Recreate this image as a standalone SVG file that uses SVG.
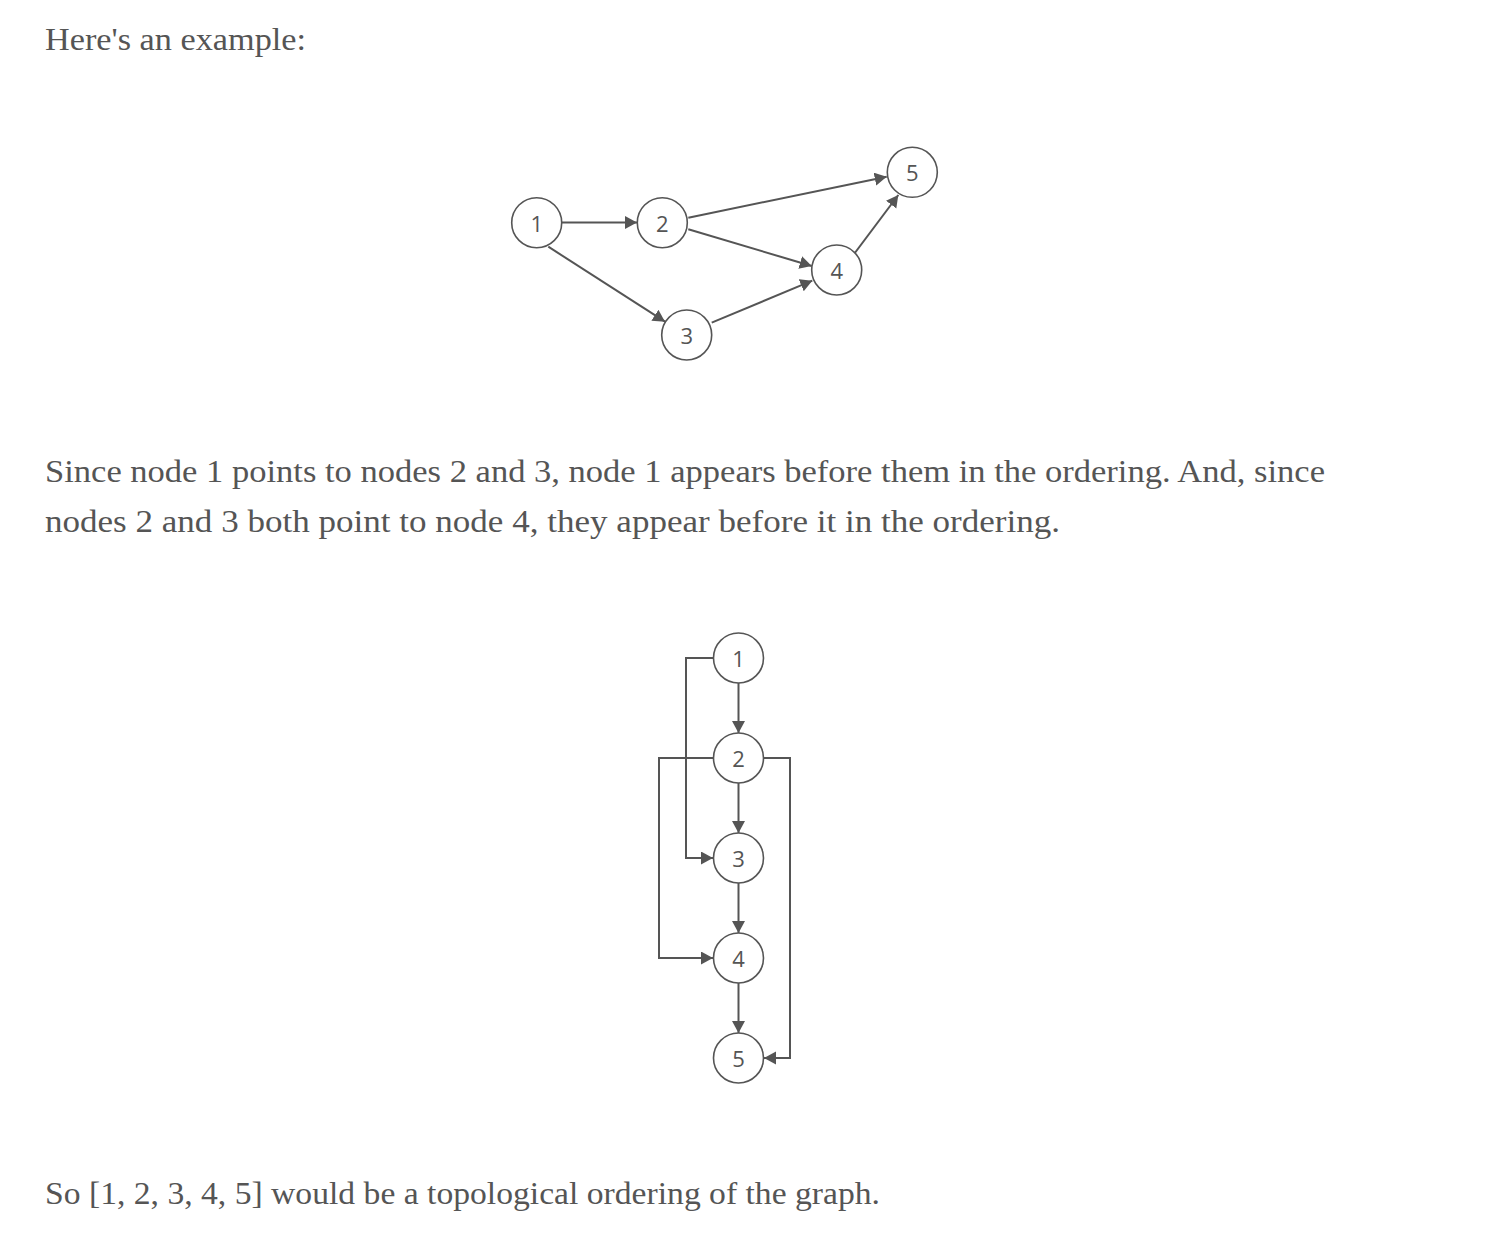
<svg xmlns="http://www.w3.org/2000/svg" width="1500" height="1244" viewBox="0 0 1500 1244">
<defs>
<style>
.para{font-family:"Liberation Serif","DejaVu Serif",serif;font-size:32px;fill:#555555;}
.node circle{fill:#ffffff;stroke:#555555;stroke-width:1.6;}
.node text{font-family:"Open Sans","Noto Sans",sans-serif;font-size:22px;fill:#555555;text-anchor:middle;dominant-baseline:central;}
.edge{fill:none;stroke:#555555;stroke-width:2;marker-end:url(#arr);}
</style>
<marker id="arr" markerUnits="userSpaceOnUse" markerWidth="13" markerHeight="14" refX="12" refY="6.5" orient="auto">
<path d="M0,0 L12,6.5 L0,13 Z" fill="#555555"/>
</marker>
</defs>
<rect width="1500" height="1244" fill="#ffffff"/>
<text class="para" x="45" y="50" textLength="261" lengthAdjust="spacingAndGlyphs">Here's an example:</text>
<text class="para" x="45" y="482" textLength="1280" lengthAdjust="spacingAndGlyphs">Since node 1 points to nodes 2 and 3, node 1 appears before them in the ordering. And, since</text>
<text class="para" x="45" y="532" textLength="1015" lengthAdjust="spacingAndGlyphs">nodes 2 and 3 both point to node 4, they appear before it in the ordering.</text>
<text class="para" x="45" y="1204" textLength="835" lengthAdjust="spacingAndGlyphs">So [1, 2, 3, 4, 5] would be a topological ordering of the graph.</text>

<g id="connectors">
<line class="edge" x1="562" y1="222.5" x2="637" y2="222.5"/>
<line class="edge" x1="548.3" y1="246.7" x2="665" y2="321.7"/>
<line class="edge" x1="688.3" y1="217.7" x2="886.7" y2="176.7"/>
<line class="edge" x1="688.3" y1="229.3" x2="811.7" y2="266"/>
<line class="edge" x1="711.7" y1="322.7" x2="812.3" y2="280.7"/>
<line class="edge" x1="853.3" y1="255" x2="898.3" y2="195"/>

<line class="edge" x1="738.5" y1="683" x2="738.5" y2="733"/>
<path class="edge" d="M713,658 H686 V858 H713"/>
<line class="edge" x1="738.5" y1="783" x2="738.5" y2="833"/>
<path class="edge" d="M713,758 H659 V958 H713"/>
<line class="edge" x1="738.5" y1="883" x2="738.5" y2="933"/>
<path class="edge" d="M764,758 H790 V1058 H764"/>
<line class="edge" x1="738.5" y1="983" x2="738.5" y2="1033"/>
</g>

<g id="top-n1" class="node"><circle cx="536.7" cy="222.7" r="25"/><text x="536.7" y="222.7">1</text></g>
<g id="top-n2" class="node"><circle cx="662.3" cy="222.7" r="25"/><text x="662.3" y="222.7">2</text></g>
<g id="top-n3" class="node"><circle cx="686.7" cy="335" r="25"/><text x="686.7" y="335">3</text></g>
<g id="top-n4" class="node"><circle cx="836.7" cy="270" r="25"/><text x="836.7" y="270">4</text></g>
<g id="top-n5" class="node"><circle cx="912.3" cy="172.3" r="25"/><text x="912.3" y="172.3">5</text></g>

<g id="bot-n1" class="node"><circle cx="738.5" cy="658" r="25"/><text x="738.5" y="658">1</text></g>
<g id="bot-n2" class="node"><circle cx="738.5" cy="758" r="25"/><text x="738.5" y="758">2</text></g>
<g id="bot-n3" class="node"><circle cx="738.5" cy="858" r="25"/><text x="738.5" y="858">3</text></g>
<g id="bot-n4" class="node"><circle cx="738.5" cy="958" r="25"/><text x="738.5" y="958">4</text></g>
<g id="bot-n5" class="node"><circle cx="738.5" cy="1058" r="25"/><text x="738.5" y="1058">5</text></g>
</svg>
